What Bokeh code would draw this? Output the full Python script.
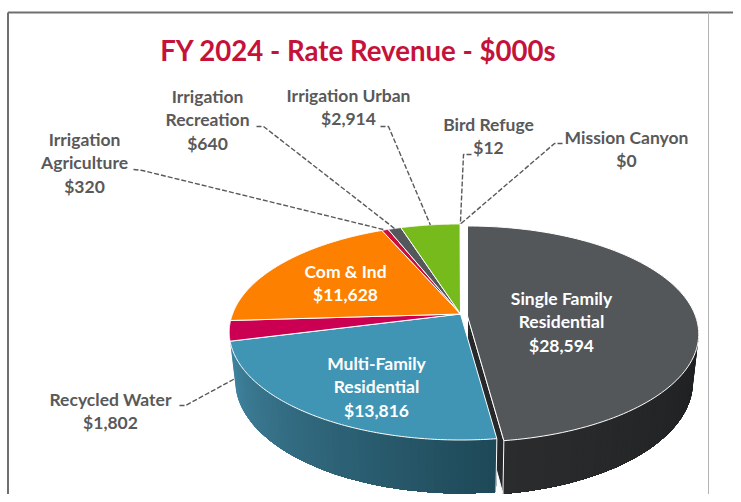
import math
from bokeh.plotting import figure
from bokeh.models import Range1d
from bokeh.core.properties import value
from bokeh.embed import file_html
from bokeh.resources import INLINE

# ---- data ----
categories = ["Single Family\nResidential", "Multi-Family\nResidential", "Recycled Water",
              "Com & Ind", "Irrigation\nAgriculture", "Irrigation\nRecreation",
              "Irrigation Urban", "Bird Refuge", "Mission Canyon"]
revenue = [28594, 13816, 1802, 11628, 320, 640, 2914, 12, 0]
title_text = "FY 2024 - Rate Revenue - $000s"

# ---- styles and layout ----
top_colors = ["#53575a", "#4095b5", "#cb0052", "#fe8000", "#c8103c", "#54585b", "#76bb1b", "#54585b", "#54585b"]
label_colors = ["#ffffff", "#ffffff", "#595959", "#ffffff", "#595959", "#595959", "#595959", "#595959", "#595959"]
label_x = [561, 376, 110, 345, 84, 207, 348, 488, 626]
label_y = [298, 363, 399, 271, 139, 96, 95, 124, 137]
line_step = 23.3
elbow = {2: [(179, 405), (185, 405)], 4: [(133, 169), (142, 170)], 5: [(256, 126), (263, 126)],
         6: [(380, 126), (388, 126)], 7: [(471, 154), (463, 154)], 8: [(562, 143), (554, 143)]}
APEX = (460.0, 313.5)
EXPLODE = (7.0, 2.0)
A, B, K = 228.0, 105.0, 1 / 6
DEPTH, SX, SY = 47.0, 0.975, 1.05


def rim(theta, off=(0, 0), base=False):
    u, v = math.sin(theta), math.cos(theta)
    w = 1 + K * v
    x, y = A * u / w, -B * v / w
    if base:
        x, y = x * SX, y * SY + DEPTH
    return APEX[0] + off[0] + x, APEX[1] + off[1] + y


def mix(c1, c2, t):
    a = [int(c1[i:i + 2], 16) for i in (1, 3, 5)]
    b = [int(c2[i:i + 2], 16) for i in (1, 3, 5)]
    return "#%02x%02x%02x" % tuple(round(p + (q - p) * t) for p, q in zip(a, b))


total = sum(revenue)
angles = [0.0]
for r in revenue:
    angles.append(angles[-1] + r / total * 2 * math.pi)


def steps(a0, a1, n):
    return [a0 + (a1 - a0) * i / n for i in range(n + 1)]


p = figure(width=733, height=494, x_range=Range1d(0, 733), y_range=Range1d(494, 0),
           output_backend="svg", toolbar_location=None, min_border=0)
p.axis.visible = False
p.grid.visible = False
p.outline_line_color = None
p.background_fill_color = "#ffffff"

# frame
p.segment([7.5], [12], [733], [12], line_color="#6e7070", line_width=2)
p.segment([7.5], [12], [7.5], [494], line_color="#6e7070", line_width=2)
p.segment([708], [12], [708], [494], line_color="#b4b4b4", line_width=1)


def wall(a0, a1, off, stops, n=50):
    # painted from a0 onward, each band reaching to a1, so no seams show between bands
    th = steps(a0, a1, n)
    for i in range(n):
        band = th[i:]
        pts = [rim(t, off) for t in band] + [rim(t, off, True) for t in reversed(band)]
        p.patch([q[0] for q in pts], [q[1] for q in pts],
                fill_color=mix(stops[0], stops[1], i / (n - 1)), line_color=None)


# single family side wall and inner cut face
wall(math.radians(96), angles[1], EXPLODE, ("#1e1f20", "#2b2c2d"))
g_top = rim(angles[1], EXPLODE)
g_bot = rim(angles[1], EXPLODE, True)
ax, ay = APEX[0] + EXPLODE[0], APEX[1] + EXPLODE[1]
p.patch([ax, g_top[0], g_bot[0], ax], [ay, g_top[1], g_bot[1], ay + DEPTH],
        fill_color="#26282a", line_color="#ffffff", line_width=1)
b = rim(angles[1])
bb = rim(angles[1], base=True)
# multi-family side wall
wall(angles[2], angles[1], (0, 0), ("#41849f", "#1e4958"))
p.segment([b[0]], [b[1]], [bb[0]], [bb[1]], line_color="#ffffff", line_width=1)

# top faces
for i, r in enumerate(revenue):
    if r == 0:
        continue
    off = EXPLODE if i == 0 else (0, 0)
    th = steps(angles[i], angles[i + 1], 120)
    pts = [(APEX[0] + off[0], APEX[1] + off[1])] + [rim(t, off) for t in th]
    p.patch([q[0] for q in pts], [q[1] for q in pts], fill_color=top_colors[i],
            line_color="#ffffff", line_width=1)

# leader lines
for i, pts in elbow.items():
    mid = (angles[i] + angles[i + 1]) / 2
    end = rim(mid, base=(i == 2))
    xs = [q[0] for q in pts] + [end[0]]
    ys = [q[1] for q in pts] + [end[1]]
    p.line(xs, ys, line_color="#595959", line_width=1.4, line_dash="5 2")

# labels
for i, (c, r) in enumerate(zip(categories, revenue)):
    lines = c.split("\n") + ["${:,}".format(r)]
    for j, s in enumerate(lines):
        p.text([label_x[i]], [label_y[i] + j * line_step], text=[s],
               text_font=value("Lato"), text_font_style="bold", text_font_size="17.5px",
               text_color=label_colors[i], text_align="center", text_baseline="middle")

p.text([358], [50], text=[title_text], text_font=value("Lato"), text_font_style="bold",
       text_font_size="27.6px", text_color="#c5123a", text_align="center", text_baseline="middle")

open("out.html", "w").write(file_html(p, INLINE))
